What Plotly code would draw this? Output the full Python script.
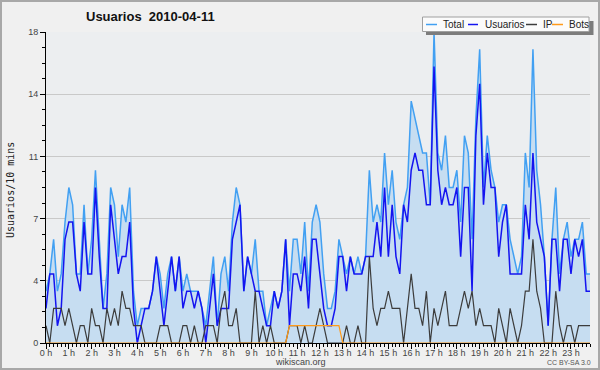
import plotly.graph_objects as go

# ---- data (values per 10-minute slot, 00:00 .. 23:50) ----
total = [3, 4, 6, 3, 4, 7, 9, 8, 4, 4, 8, 4, 6, 10, 6, 2, 4, 9, 8, 5, 8, 7, 9, 3,
         1, 2, 2, 2, 3, 5, 4, 2, 4, 5, 3, 5, 3, 4, 3, 3, 3, 2, 1, 3, 5, 1, 4, 5,
         3, 7, 9, 8, 3, 5, 4, 6, 3, 3, 1, 2, 3, 2, 3, 6, 3, 6, 6, 4, 7, 3, 7, 8,
         7, 4, 2, 2, 3, 6, 5, 4, 5, 4, 5, 4, 5, 10, 7, 8, 7, 11, 8, 10, 7, 6, 8, 9,
         14, 13, 12, 11, 11, 8, 18, 11, 10, 12, 9, 9, 10, 7, 12, 11, 6, 13, 17, 9, 12, 10, 9, 7,
         8, 8, 6, 5, 4, 5, 11, 9, 17, 10, 8, 5, 1, 6, 9, 4, 6, 7, 5, 6, 6, 7, 4, 4]
usuarios = [2, 4, 4, 1, 2, 6, 7, 7, 4, 3, 7, 4, 4, 9, 5, 2, 2, 8, 6, 4, 5, 5, 7, 2,
            0, 1, 2, 2, 3, 5, 3, 1, 3, 5, 3, 5, 2, 3, 3, 2, 3, 2, 0, 2, 4, 1, 2, 2,
            2, 6, 7, 8, 3, 5, 4, 3, 3, 2, 1, 1, 3, 2, 3, 6, 1, 4, 4, 3, 5, 2, 6, 6,
            4, 2, 1, 1, 2, 5, 5, 3, 5, 4, 4, 4, 5, 5, 5, 7, 5, 9, 5, 8, 5, 4, 8, 7,
            10, 11, 10, 10, 8, 8, 16, 10, 8, 9, 8, 8, 9, 5, 9, 9, 3, 12, 15, 8, 11, 9, 9, 5,
            7, 8, 4, 4, 4, 4, 8, 6, 11, 7, 6, 5, 1, 6, 6, 3, 6, 6, 4, 6, 5, 6, 3, 3]
ip = [1, 0, 2, 2, 2, 1, 2, 1, 0, 1, 1, 0, 2, 1, 1, 0, 2, 1, 2, 1, 3, 2, 2, 1,
      1, 1, 0, 0, 0, 0, 1, 1, 1, 0, 0, 0, 1, 1, 0, 1, 0, 0, 1, 1, 1, 0, 2, 3,
      1, 1, 2, 0, 0, 0, 0, 3, 0, 1, 0, 1, 0, 0, 0, 0, 1, 1, 1, 0, 1, 0, 0, 1,
      2, 1, 0, 0, 0, 0, 0, 1, 0, 0, 1, 0, 0, 5, 2, 1, 2, 2, 3, 2, 2, 2, 0, 2,
      4, 2, 2, 1, 3, 0, 2, 1, 2, 3, 1, 1, 1, 2, 3, 2, 3, 1, 2, 1, 1, 1, 0, 2,
      1, 0, 2, 1, 0, 1, 3, 3, 6, 3, 2, 0, 0, 0, 3, 1, 0, 1, 1, 0, 1, 1, 1, 1]
bots = [0] * 64 + [1] * 14 + [0] * 66

slot_minutes = list(range(0, 1440, 10))
hours = [m / 60 for m in slot_minutes]
hour_ticks = list(range(24))
hour_labels = [f"{h} h" for h in hour_ticks]
y_ticks = [0, 3.6, 7.2, 10.8, 14.4, 18]
y_labels = ["0", "4", "7", "11", "14", "18"]

W, H = 600, 370
ML, MR, MT, MB = 46, 10, 32, 27
PW, PH = W - ML - MR, H - MT - MB


def px(x):
    return (x - ML) / PW


def py(y):
    return (H - MB - y) / PH


C_TOTAL = "#42a0f2"
C_USR = "#1414f0"
C_IP = "#3c3c3c"
C_BOTS = "#ff9a1a"

fig = go.Figure()
fig.add_trace(go.Scatter(x=hours, y=total, mode="lines", name="Total",
                         line=dict(color=C_TOTAL, width=1.5),
                         fill="tozeroy", fillcolor="#c6ddf1"))
fig.add_trace(go.Scatter(x=hours, y=usuarios, mode="lines", name="Usuarios",
                         line=dict(color=C_USR, width=1.5)))
fig.add_trace(go.Scatter(x=hours, y=ip, mode="lines", name="IP",
                         line=dict(color=C_IP, width=1.2)))
fig.add_trace(go.Scatter(x=hours, y=bots, mode="lines", name="Bots",
                         line=dict(color=C_BOTS, width=1.2)))

fig.update_layout(
    width=W, height=H,
    margin=dict(l=ML, r=MR, t=MT, b=MB, pad=0),
    paper_bgcolor="#f0f0f0", plot_bgcolor="#eceef0",
    showlegend=False,
    font=dict(family="Liberation Sans, Arial, sans-serif", size=9, color="#444"),
)
fig.update_xaxes(
    range=[0, hours[-1]], tickvals=hour_ticks, ticktext=hour_labels,
    ticks="outside", ticklen=5, tickcolor="#000", tickwidth=1,
    showline=True, linecolor="#000", linewidth=1,
    showgrid=False, zeroline=False, automargin=False,
    tickfont=dict(size=9, color="#444"), ticklabelstandoff=-4,
    minor=dict(tick0=0, dtick=1 / 6, ticks="outside", ticklen=3, tickcolor="#000", showgrid=False),
)
fig.update_yaxes(
    range=[0, 18], tickvals=y_ticks, ticktext=y_labels,
    ticks="outside", ticklen=5, tickcolor="#000", tickwidth=1,
    showline=True, linecolor="#000", linewidth=1,
    showgrid=True, gridcolor="#c9c9c9", gridwidth=1,
    zeroline=False, automargin=False,
    tickfont=dict(size=9, color="#444"),
    minor=dict(tick0=0, dtick=0.9, ticks="outside", ticklen=3, tickcolor="#000", showgrid=False),
)

shapes = [
    # outer frame
    dict(type="rect", xref="paper", yref="paper", x0=px(1), x1=px(599), y0=py(369), y1=py(1),
         line=dict(color="#a8a8a8", width=2), fillcolor="rgba(0,0,0,0)", layer="above"),
    # legend shadow and box
    dict(type="rect", xref="paper", yref="paper", x0=px(426), x1=px(593.5), y0=py(35), y1=py(21),
         line=dict(width=0), fillcolor="#7c7c7c", layer="above"),
    dict(type="rect", xref="paper", yref="paper", x0=px(422.5), x1=px(589), y0=py(31.5), y1=py(17),
         line=dict(color="#a0a0a0", width=1), fillcolor="#fbfbfb", layer="above"),
]
legend_items = [("Total", C_TOTAL, 426, 437, 442),
                ("Usuarios", C_USR, 468, 478, 484),
                ("IP", C_IP, 526, 537, 542),
                ("Bots", C_BOTS, 552, 563, 568)]
annotations = []
for name, col, lx0, lx1, tx in legend_items:
    shapes.append(dict(type="line", xref="paper", yref="paper", x0=px(lx0), x1=px(lx1),
                       y0=py(24.5), y1=py(24.5), line=dict(color=col, width=1.5), layer="above"))
    annotations.append(dict(text=name, xref="paper", yref="paper", x=px(tx - 1), y=py(24.5),
                            xanchor="left", yanchor="middle", showarrow=False,
                            font=dict(size=10, color="#222")))

annotations += [
    dict(text="<b>Usuarios\u00a0 2010-04-11</b>", xref="paper", yref="paper",
         x=px(150.5), y=py(16), xanchor="center", yanchor="middle", showarrow=False,
         font=dict(size=13, color="#111")),
    dict(text="Usuarios/10 mins", xref="paper", yref="paper", x=px(10), y=py(190),
         xanchor="center", yanchor="middle", textangle=-90, showarrow=False,
         font=dict(family="DejaVu Sans Mono, monospace", size=10, color="#222")),
    dict(text="wikiscan.org", xref="paper", yref="paper", x=px(300), y=py(361.5),
         xanchor="center", yanchor="middle", showarrow=False,
         font=dict(size=9, color="#444")),
    dict(text="CC BY-SA 3.0", xref="paper", yref="paper", x=px(569), y=py(362.5),
         xanchor="center", yanchor="middle", showarrow=False,
         font=dict(size=7, color="#555")),
]
fig.update_layout(shapes=shapes, annotations=annotations)

fig.write_html("out.html", config={"displayModeBar": False},
               post_script="document.body.style.margin='0px';document.body.style.overflow='hidden';")
